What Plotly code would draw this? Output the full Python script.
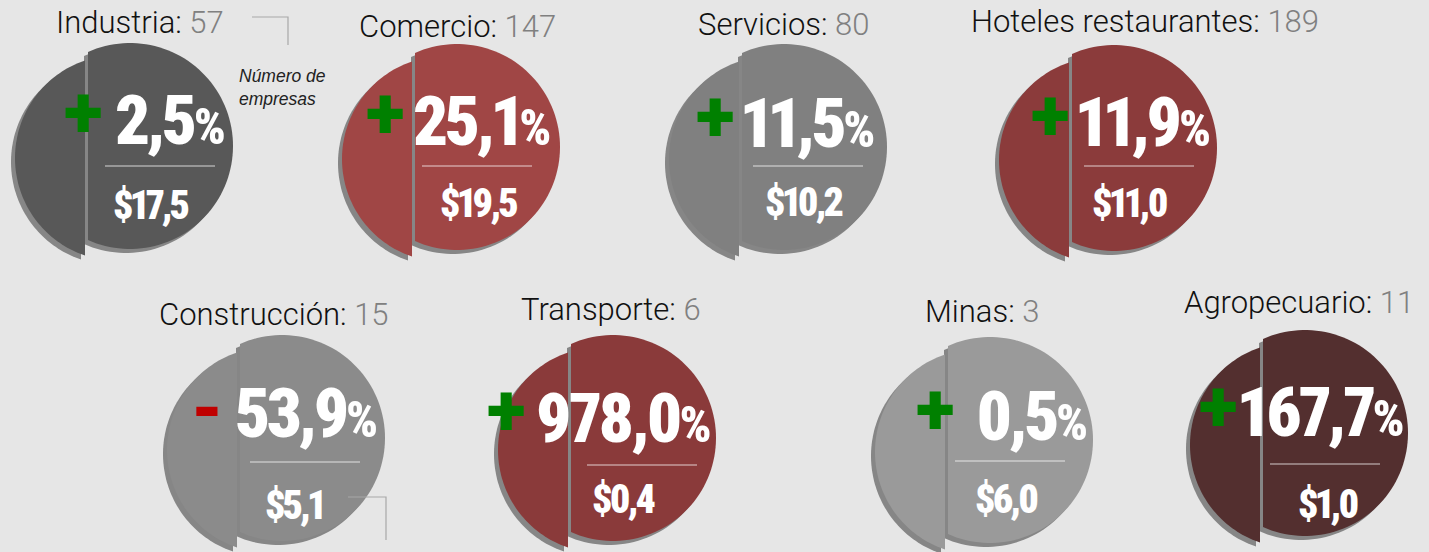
import math
import plotly.graph_objects as go

# ---------------- data ----------------
sectores = ["Industria", "Comercio", "Servicios", "Hoteles restaurantes",
            "Construcción", "Transporte", "Minas", "Agropecuario"]
empresas = [57, 147, 80, 189, 15, 6, 3, 11]
variacion = [2.5, 25.1, 11.5, 11.9, -53.9, 978.0, 0.5, 167.7]
monto = [17.5, 19.5, 10.2, 11.0, 5.1, 0.4, 6.0, 1.0]

# ---------------- layout / styles ----------------
W, H = 1429, 552
BG = "#e6e6e6"
fills = ["#585858", "#a04645", "#808080", "#8b3b3b",
         "#8b8b8b", "#8a3a3a", "#9a9a9a", "#532f2f"]
cx = [130, 457, 784, 1114, 282, 613, 990, 1305]
cy = [146, 147, 147, 148, 438, 438, 440, 433]
title_x = [140, 457, 783, 1145, 274, 611, 982, 1299]
title_base = [33, 37, 35, 32, 325, 320, 322, 313]
sign_x = [83, 385, 715, 1050, 207, 506, 935, 1218]
sign_y = [115, 116, 119, 118, 414, 413, 412, 409]
pct_right = [226, 551, 875, 1211, 378, 711, 1088, 1404]
pct_base = [145, 146, 148, 147, 438, 443, 441, 437]
usd_left = [111, 438, 763, 1090, 263, 590, 973, 1296]
usd_base = [219, 217, 216, 217, 519, 513, 513, 518]
line_left = [105, 422, 753, 1084, 250, 587, 955, 1270]
line_y = [166, 166, 166, 166, 462, 465, 461, 464]

R = 103
D_RIGHT = 42
D_LEFT = 33
OFF = (-12, 12)
SHADOW = (-4, 4)
SHADOW_COL = "#868686"

BIG_FONT = "Roboto"
NUMS = "font-variant-numeric:proportional-nums;font-feature-settings:'pnum' 1"
PCT_STYLE = f"font-stretch:75%;letter-spacing:-3.5px;{NUMS}"
USD_STYLE = f"font-stretch:75%;letter-spacing:-3px;{NUMS}"
TITLE_FONT = "Roboto"
PCT_SIZE = 69
USD_SIZE = 40


def fmt(v):
    return f"{abs(v):.1f}".replace(".", ",")


def piece(x0, y0, r, d, side, n=90):
    a = math.acos(-d / r)
    if side == "right":
        angs = [-a + 2 * a * i / n for i in range(n + 1)]
    else:
        angs = [a + (2 * math.pi - 2 * a) * i / n for i in range(n + 1)]
    pts = [(x0 + r * math.cos(t), y0 + r * math.sin(t)) for t in angs]
    return "M " + " L ".join(f"{x:.2f},{y:.2f}" for x, y in pts) + " Z"


fig = go.Figure()
shapes = []
ann = []

for i in range(len(sectores)):
    xr, yr = cx[i], cy[i]
    xl, yl = xr + OFF[0], yr + OFF[1]
    # shadows
    for (x0, y0, d, side) in [(xl, yl, D_LEFT, "left"), (xr, yr, D_RIGHT, "right")]:
        shapes.append(dict(type="path", path=piece(x0 + SHADOW[0], y0 + SHADOW[1], R, d, side),
                           fillcolor=SHADOW_COL, line=dict(width=0), layer="below"))
    shapes.append(dict(type="path", path=piece(xl, yl, R, D_LEFT, "left"),
                       fillcolor=fills[i], line=dict(width=0), layer="below"))
    shapes.append(dict(type="path", path=piece(xr, yr, R, D_RIGHT, "right"),
                       fillcolor=fills[i], line=dict(width=0), layer="below"))
    # divider line
    shapes.append(dict(type="line", x0=line_left[i], x1=line_left[i] + 110,
                       y0=line_y[i], y1=line_y[i],
                       line=dict(color="rgba(255,255,255,0.75)", width=1.2)))

    # title
    ann.append(dict(x=title_x[i], y=title_base[i] - 11, xanchor="center", yanchor="middle",
                    text=f"{sectores[i]}: <span style='color:#808080'>{empresas[i]}</span>",
                    font=dict(family=TITLE_FONT, size=31, color="#111111", weight=300),
                    showarrow=False))
    # sign
    pos = variacion[i] >= 0
    ann.append(dict(x=sign_x[i], y=sign_y[i] - 3 if pos else sign_y[i] - 5,
                    xanchor="center", yanchor="middle",
                    text="+" if pos else "-",
                    font=dict(family="Roboto", size=72,
                              color="#008000" if pos else "#c00000", weight=900),
                    showarrow=False))
    # percent
    ann.append(dict(x=pct_right[i], y=pct_base[i] - 0.35 * PCT_SIZE, xanchor="right", yanchor="middle",
                    text=f"<span style=\"{PCT_STYLE}\">{fmt(variacion[i])}"
                         f"<span style='font-size:50px'>%</span></span>",
                    font=dict(family=BIG_FONT, size=PCT_SIZE, color="white", weight=900),
                    showarrow=False))
    # amount
    ann.append(dict(x=usd_left[i], y=usd_base[i] - 0.35 * USD_SIZE, xanchor="left", yanchor="middle",
                    text=f"<span style=\"{USD_STYLE}\">${fmt(monto[i])}</span>",
                    font=dict(family=BIG_FONT, size=USD_SIZE, color="white", weight=900),
                    showarrow=False))

# explanatory note and brackets
ann.append(dict(x=237, y=64, xanchor="left", yanchor="top",
                text="Número de<br>empresas", align="left",
                font=dict(family="Liberation Sans, Arial, sans-serif", size=17.5,
                          color="#222222", style="italic"),
                showarrow=False))
shapes.append(dict(type="path", path="M 252,17 L 288,17 L 288,45",
                   line=dict(color="#a8a8a8", width=1.2)))
shapes.append(dict(type="path", path="M 348,497 L 386,497 L 386,540",
                   line=dict(color="#a8a8a8", width=1.2)))

fig.update_layout(
    width=W, height=H,
    margin=dict(l=0, r=0, t=0, b=0),
    paper_bgcolor=BG, plot_bgcolor=BG,
    xaxis=dict(range=[0, W], visible=False, fixedrange=True),
    yaxis=dict(range=[H, 0], visible=False, fixedrange=True),
    shapes=shapes, annotations=ann, showlegend=False,
)

fig.write_html("out.html", config={"displayModeBar": False},
               post_script="document.body.style.margin='0';document.body.style.background='#e6e6e6';")
